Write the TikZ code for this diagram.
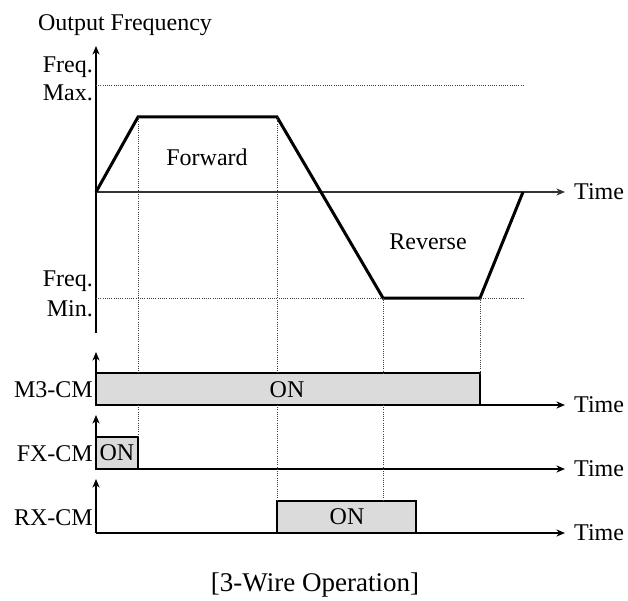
\documentclass[tikz,border=0pt]{standalone}
\usepackage{fontspec}
\setmainfont{Liberation Serif}
\usetikzlibrary{arrows.meta}
\begin{document}
\begin{tikzpicture}[x=1pt,y=-1pt,
  lbl/.style={inner sep=0pt,font=\fontsize{24}{28}\selectfont},
  axis/.style={line width=1.6pt,-{Stealth[length=8.5pt,width=7pt,inset=2.5pt]}},
  wave/.style={line width=3pt,line join=miter},
  guide/.style={line width=0.9pt,black!75,dash pattern=on 1pt off 1.2pt},
  onbox/.style={draw,line width=1.4pt,fill=black!14}]
\useasboundingbox (0,0) rectangle (628,601);
% top chart
\node[lbl] (title) at (125,25) {Output Frequency};
\coordinate (o) at (96,192);
\coordinate (ytop) at (96,46);
\coordinate (ybot) at (96,333);
\coordinate (xend) at (565,192);
\draw[line width=1.6pt] (ybot) -- (o);
\draw[axis] (o) -- (ytop);
\draw[axis,black!80] (o) -- (xend);
\node[lbl,anchor=west] (t0) at (574,192) {Time};
\coordinate (fmaxa) at (96,85); \coordinate (fmaxb) at (524,85);
\coordinate (fmina) at (96,298); \coordinate (fminb) at (524,298);
\draw[guide] (fmaxa) -- (fmaxb);
\draw[guide] (fmina) -- (fminb);
\node[lbl,anchor=east] (fq1) at (93,67) {Freq.};
\node[lbl,anchor=east] (mx) at (93,93) {Max.};
\node[lbl,anchor=east] (fq2) at (93,281) {Freq.};
\node[lbl,anchor=east] (mn) at (93,309) {Min.};
\coordinate (p1) at (138,117);
\coordinate (p2) at (277,117);
\coordinate (p3) at (383,298);
\coordinate (p4) at (480,298);
\coordinate (p5) at (523,192);
\draw[wave] (o) -- (p1) -- (p2) -- (p3) -- (p4) -- (p5);
\node[lbl] (fwd) at (207,157) {Forward};
\node[lbl] (rev) at (428,242) {Reverse};
% M3-CM
\coordinate (m0) at (96,405);
\draw[onbox] (96,373) rectangle (480,405);
\draw[axis] (m0) -- (96,352);
\draw[axis] (m0) -- (565,405);
\node[lbl] (mon) at (287,390) {ON};
\node[lbl,anchor=east] (m3) at (93,390) {M3-CM};
\node[lbl,anchor=west] (t1) at (574,405) {Time};
% FX-CM
\coordinate (f0) at (96,469);
\draw[onbox] (96,437) rectangle (138,469);
\draw[axis] (f0) -- (96,415);
\draw[axis] (f0) -- (565,469);
\node[lbl] (fon) at (117,453) {ON};
\node[lbl,anchor=east] (fx) at (93,454) {FX-CM};
\node[lbl,anchor=west] (t2) at (574,469) {Time};
% RX-CM
\coordinate (r0) at (96,533);
\draw[onbox] (277,501) rectangle (416,533);
\draw[axis] (r0) -- (96,479);
\draw[axis] (r0) -- (565,533);
\node[lbl] (ron) at (347,517) {ON};
\node[lbl,anchor=east] (rx) at (93,518) {RX-CM};
\node[lbl,anchor=west] (t3) at (574,533) {Time};
% guides
\draw[guide] (p1) -- (138,373) (138,405) -- (138,437);
\draw[guide] (p2) -- (277,373) (277,405) -- (277,501);
\draw[guide] (p3) -- (383,373) (383,405) -- (383,501);
\draw[guide] (p4) -- (480,373);
% caption
\node[lbl,font=\fontsize{27}{31}\selectfont] (cap) at (315,585) {[3-Wire Operation]};
\end{tikzpicture}
\end{document}
